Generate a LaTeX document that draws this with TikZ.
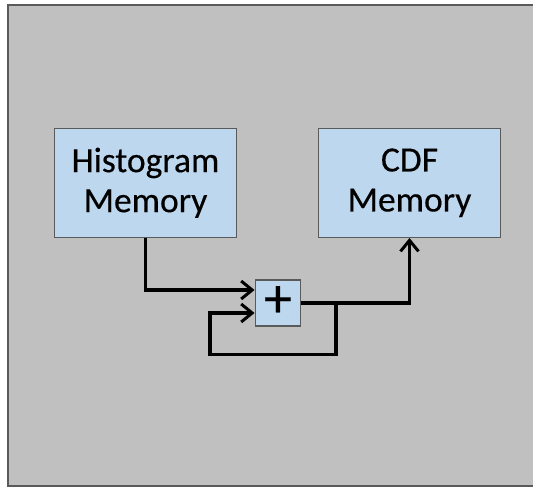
\documentclass[tikz,border=0pt]{standalone}
\usepackage{fontspec}
\setmainfont{Carlito}[BoldFont=Carlito, BoldFeatures={FakeBold=0.35}]
\usetikzlibrary{arrows.meta}
\definecolor{panelgrey}{HTML}{C0C0C0}
\definecolor{boxblue}{HTML}{BDD7EE}
\definecolor{edgegrey}{HTML}{5A5A5A}
\tikzset{
  block/.style={draw=edgegrey, line width=1.4pt, fill=boxblue, inner sep=0pt,
    align=center, font=\fontsize{35.5}{40}\selectfont\bfseries},
  conn/.style={line width=3.6pt, line join=miter, black},
  tip/.style={-{Straight Barb[length=11pt,width=18pt,line width=3pt]}}
}
\begin{document}
\begin{tikzpicture}[x=1pt,y=-1pt]
  \useasboundingbox (0,0) rectangle (533,487);
  \clip (0,0) rectangle (533,487);
  % background panel
  \draw[draw=edgegrey, line width=1.4pt, fill=panelgrey] (8,5) rectangle (560,486);

  % memories and the adder
  \node[block, minimum width=182pt, minimum height=109pt] (hist) at (145.5,182.8) {Histogram\\Memory};
  \node[block, minimum width=182pt, minimum height=109pt] (cdf) at (409.5,182.8) {CDF\\Memory};
  \node[block, minimum width=45.5pt, minimum height=46pt, font=\fontsize{56}{56}\selectfont\bfseries] (plus) at (278,303) {\raisebox{3pt}{+}};

  % routing points of the accumulator loop
  \coordinate (in1) at ([yshift=13pt]plus.west);
  \coordinate (in2) at ([yshift=-10pt]plus.west);
  \coordinate (tap) at (335.7,303);
  \coordinate (loop) at (210,354.3);

  % histogram value into the adder
  \draw[conn, tip] (hist.south) |- (in1);
  % running sum out to the CDF memory
  \draw[conn, tip] (plus.east) -| (cdf.south);
  % feedback of the running sum
  \draw[conn, tip] (tap) |- (loop) |- (in2);
\end{tikzpicture}
\end{document}
